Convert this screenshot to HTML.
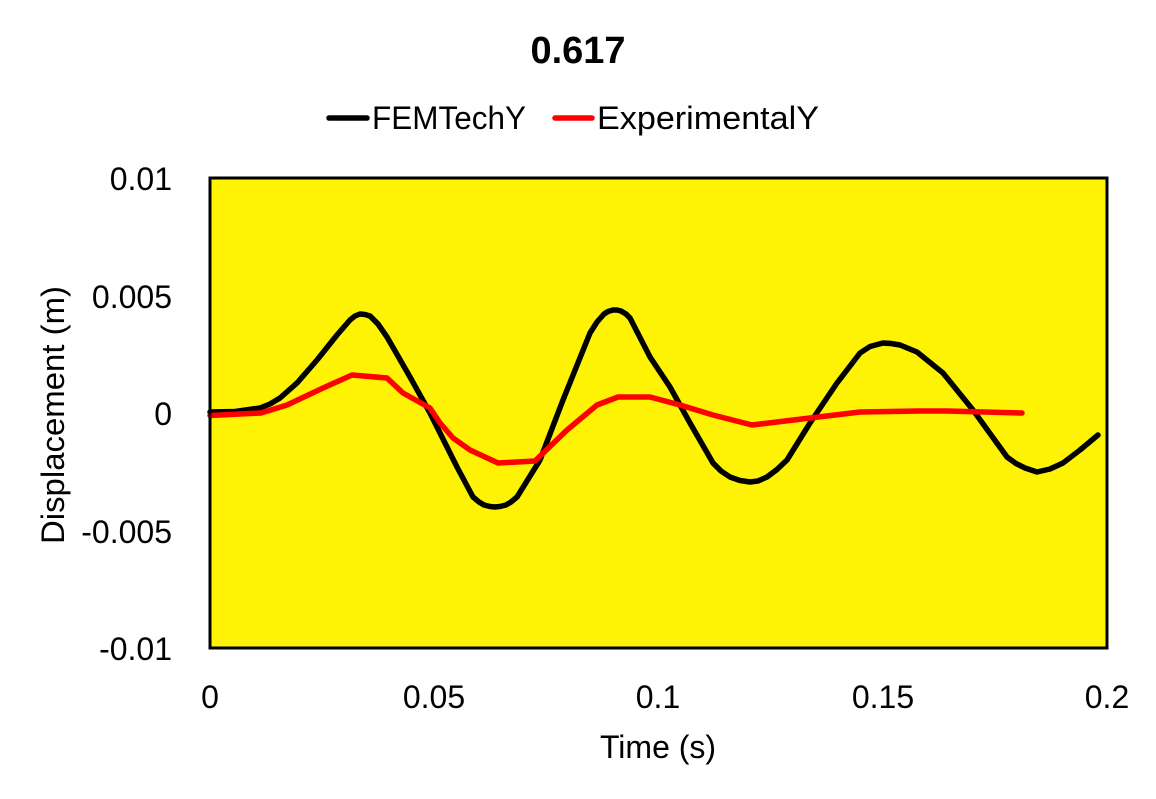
<!DOCTYPE html>
<html>
<head>
<meta charset="utf-8">
<style>
  html, body { margin: 0; padding: 0; background: #ffffff; }
  svg { display: block; }
  text { font-family: "Liberation Sans", Arial, sans-serif; fill: #000; }
</style>
</head>
<body>
<svg width="1156" height="799" viewBox="0 0 1156 799" xmlns="http://www.w3.org/2000/svg">
  <rect x="0" y="0" width="1156" height="799" fill="#ffffff"/>

  <!-- Title -->
  <text x="578" y="63" font-size="38" font-weight="bold" text-anchor="middle">0.617</text>

  <!-- Legend -->
  <line x1="329" y1="118" x2="367" y2="118" stroke="#000" stroke-width="5.5" stroke-linecap="round"/>
  <text x="372" y="129" font-size="32" textLength="154" lengthAdjust="spacingAndGlyphs">FEMTechY</text>
  <line x1="555" y1="118" x2="592" y2="118" stroke="#ff0000" stroke-width="5.5" stroke-linecap="round"/>
  <text x="597" y="129" font-size="32" textLength="222" lengthAdjust="spacingAndGlyphs">ExperimentalY</text>

  <!-- Plot area -->
  <rect x="210" y="178" width="897" height="470" fill="#FFF305"/>

  <!-- FEMTechY series -->
  <polyline fill="none" stroke="#000" stroke-width="5.5" stroke-linecap="round" stroke-linejoin="round"
    points="210,412 235,411.5 260,408 270,404 280,398 297,383 317,360 337,335 350,320 355,316 360,314 365,314.5 370,316 378,324 387,337 410,377 430,413 457,467 473,497 479,502 484,505 490,506.5 495,507 500,506.5 506,505 511,502 517,497 540,460 563,400 590,333 597,322 604,314 608,311.5 613,310 617,310 621,311 626,314 630,318 650,357 670,387 690,423 713,463 721,471 730,477 740,480.5 750,482 758,481 767,477 777,469.5 787,460 810,423 837,383 860,353 870,346.5 883,343 891,343.5 900,345 917,352 943,373 973,410 1007,457 1016,463.5 1025,468 1037,472 1050,469 1063,463 1080,450 1098,435"/>

  <!-- ExperimentalY series -->
  <polyline fill="none" stroke="#ff0000" stroke-width="5.5" stroke-linecap="round" stroke-linejoin="round"
    points="210,415.5 261,413 287,405 323,388 352,375 387,378 403,393 430,408 440,423 453,438 470,450 498,463 535,461 567,430 597,405 618,397 650,397 680,405 713,415 752,425 810,418 860,412 920,411 947,411 1022,413"/>

  <!-- Plot border -->
  <rect x="210" y="178" width="897" height="470" fill="none" stroke="#000" stroke-width="3"/>

  <!-- Y tick labels -->
  <text x="172" y="190" font-size="32" text-anchor="end">0.01</text>
  <text x="172" y="308" font-size="32" text-anchor="end">0.005</text>
  <text x="172" y="425" font-size="32" text-anchor="end">0</text>
  <text x="172" y="543" font-size="32" text-anchor="end">-0.005</text>
  <text x="172" y="660" font-size="32" text-anchor="end">-0.01</text>

  <!-- X tick labels -->
  <text x="210" y="708" font-size="32" text-anchor="middle">0</text>
  <text x="434" y="708" font-size="32" text-anchor="middle">0.05</text>
  <text x="658" y="708" font-size="32" text-anchor="middle">0.1</text>
  <text x="883" y="708" font-size="32" text-anchor="middle">0.15</text>
  <text x="1107" y="708" font-size="32" text-anchor="middle">0.2</text>

  <!-- Axis titles -->
  <text x="658" y="758" font-size="32" text-anchor="middle">Time (s)</text>
  <text transform="translate(64,415) rotate(-90)" x="0" y="0" font-size="32" text-anchor="middle" textLength="258" lengthAdjust="spacingAndGlyphs">Displacement (m)</text>
</svg>
</body>
</html>
